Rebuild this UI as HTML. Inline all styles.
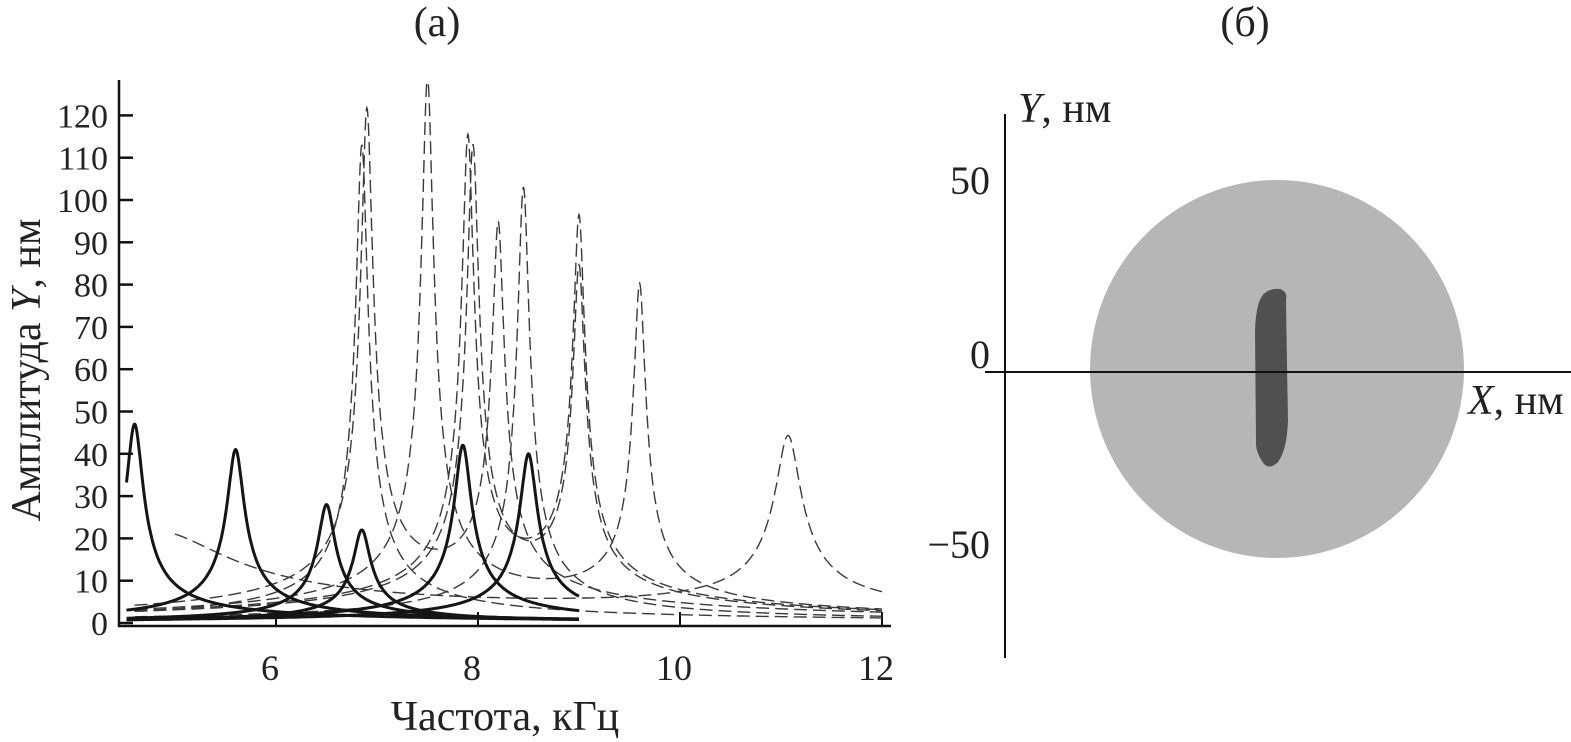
<!DOCTYPE html>
<html><head><meta charset="utf-8">
<style>
html,body{margin:0;padding:0;background:#fff;}
svg{display:block;}
text{font-family:"Liberation Serif",serif;fill:#222;}
</style></head>
<body>
<svg id="chart" width="1571" height="742" viewBox="0 0 1571 742" xmlns="http://www.w3.org/2000/svg">
<text x="437" y="36" font-size="42" text-anchor="middle">(а)</text>
<text x="1245" y="36" font-size="42" text-anchor="middle">(б)</text>
<g id="plotA"></g>
<text transform="translate(40,370) rotate(-90)" font-size="42" text-anchor="middle">Амплитуда <tspan font-style="italic">Y</tspan>, нм</text>
<text x="505" y="730" font-size="42" text-anchor="middle">Частота, кГц</text>

<g>
  <ellipse cx="1277" cy="369" rx="187" ry="189" fill="#b5b6b8"/>
  <path d="M1262,296 Q1268,288 1280,289 Q1288,292 1286,300 L1287,365 L1288,420 Q1287,450 1278,462 Q1270,470 1264,464 Q1255,452 1256,440 L1255,330 Q1256,305 1262,296 Z" fill="#505053"/>
  <line x1="1005" y1="114" x2="1005" y2="658" stroke="#111" stroke-width="2"/>
  <line x1="985" y1="372" x2="1571" y2="372" stroke="#111" stroke-width="2"/>
  <text x="990" y="194" font-size="40" text-anchor="end">50</text>
  <text x="990" y="368" font-size="40" text-anchor="end">0</text>
  <text x="990" y="558" font-size="40" text-anchor="end">−50</text>
  <text x="1018" y="122" font-size="42"><tspan font-style="italic">Y</tspan>, нм</text>
  <text x="1468" y="414" font-size="42"><tspan font-style="italic">X</tspan>, нм</text>
</g>
</svg>
<script>
// x ticks, y ticks
const xTicks = [6, 8, 10, 12];
const yTicks = [0,10,20,30,40,50,60,70,80,90,100,110,120];
// solid curves: peak frequency, peak amplitude
const solidFreq = [4.6, 5.6, 6.5, 6.85, 7.85, 8.5];
const solidAmp  = [47, 41, 28, 22, 42, 40];
// dashed curves: each has up to two resonance components
const dashFreqA = [6.85, 6.9, 7.5, 7.9, 7.95, 8.45, 11.07];
const dashAmpA  = [113, 118, 127, 111, 109, 103, 42];
const dashWidthA = [0.055, 0.055, 0.055, 0.055, 0.055, 0.055, 0.12];
const dashFreqB = [null, 8.2, 9.6, 9.0, 9.0, null, 4.8];
const dashAmpB  = [0, 90, 77, 91, 79, 0, 21];
const dashWidthB = [0, 0.055, 0.055, 0.055, 0.055, 0, 0.7];
const dashStart = [4.6, 4.6, 4.6, 4.6, 4.6, 4.6, 5.0];

const NS = "http://www.w3.org/2000/svg";
const g = document.getElementById('plotA');
const X = f => 276 + (f - 6) * 101;
const Y = v => 623 - v * 4.23;
function lor(f, f0, a, w){ return a * w / Math.sqrt((f - f0) * (f - f0) + w * w); }

function mk(tag, attrs){ const e = document.createElementNS(NS, tag); for (const k in attrs) e.setAttribute(k, attrs[k]); g.appendChild(e); return e; }

let ax = mk('line', {x1:119, y1:80, x2:119, y2:627, stroke:'#111', 'stroke-width':2.5});


let bx = mk('line', {x1:118, y1:626, x2:891, y2:626, stroke:'#111', 'stroke-width':2.5});



yTicks.forEach(v => {
  const t = mk('line', {x1:119, y1:Y(v), x2:133, y2:Y(v), stroke:'#111', 'stroke-width':2.5});
  
  
  const l = mk('text', {x:108, y:Y(v) + 12, 'font-size':34, 'text-anchor':'end'});
  l.textContent = v;
  
  
});
xTicks.forEach(v => {
  const t = mk('line', {x1:X(v), y1:626, x2:X(v), y2:612, stroke:'#111', 'stroke-width':2});
  
  
  const l = mk('text', {x:X(v) - 6, y:680, 'font-size':36, 'text-anchor':'middle'});
  l.textContent = v;
  
  
});

function path(fn, f1, f2){
  let d = '';
  for (let f = f1; f <= f2 + 1e-9; f += 0.004) {
    const v = Math.min(fn(f), 128);
    d += (d ? 'L' : 'M') + X(f).toFixed(1) + ',' + Y(v).toFixed(1);
  }
  return d;
}

dashFreqA.forEach((f0, i) => {
  const fn = f => lor(f, f0, dashAmpA[i], dashWidthA[i]) + (dashFreqB[i] !== null ? lor(f, dashFreqB[i], dashAmpB[i], dashWidthB[i]) : 0);
  const p = mk('path', {d:path(fn, dashStart[i], 12), fill:'none', stroke:'#3a3a3a', 'stroke-width':1.4, 'stroke-dasharray':'13 6'});
  
  
});
solidFreq.forEach((f0, i) => {
  const fn = f => lor(f, f0, solidAmp[i], 0.08);
  const p = mk('path', {d:path(fn, 4.52, 9.0), fill:'none', stroke:'#151515', 'stroke-width':3});
  
  
});
</script>
</body></html>
